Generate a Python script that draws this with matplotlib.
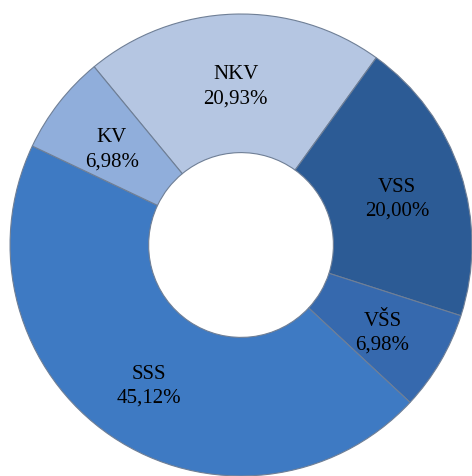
import matplotlib.pyplot as plt
import numpy as np

# kvalifikacijska struktura
labels = ['NKV', 'VSS', 'VŠS', 'SSS', 'KV']
values = [20.93, 20.00, 6.98, 45.12, 6.98]
colors = ['#b5c6e2', '#2c5b95', '#3669ae', '#3e7ac3', '#90aedb']

fig = plt.figure(figsize=(4.72, 4.77), dpi=100)
ax = fig.add_axes([0.0, 0.0, 1.0, 1.0])

wedges, _ = ax.pie(
    values,
    colors=colors,
    startangle=129.5,
    counterclock=False,
    radius=1.0,
    wedgeprops=dict(width=0.6, edgecolor='#6f7f96', linewidth=0.8),
)

# oznake na sredini prstena
total = sum(values)
ang = 129.5
for lab, v in zip(labels, values):
    mid = np.deg2rad(ang - v / total * 360 / 2)
    ang -= v / total * 360
    r = 0.71
    ax.text(r * np.cos(mid), r * np.sin(mid) - 0.02,
            f"{lab}\n{v:.2f}%".replace('.', ','),
            ha='center', va='center', fontsize=15,
            family='Liberation Serif', linespacing=1.35)

ax.set_xlim(-1.0435, 1.0)
ax.set_ylim(-1.0, 1.0649)
ax.set_aspect('equal')
ax.axis('off')

plt.savefig('out.png', dpi=100)
plt.close()
